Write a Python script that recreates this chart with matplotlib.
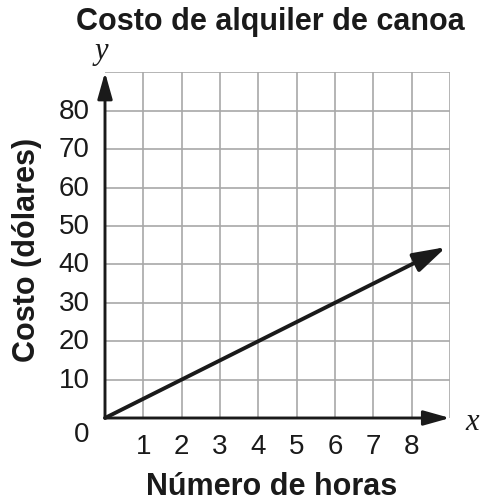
import matplotlib
matplotlib.use("Agg")
import matplotlib.pyplot as plt
import numpy as np

title = "Costo de alquiler de canoa"
xlabel = "Número de horas"
ylabel = "Costo (dólares)"
x_ticks = [1, 2, 3, 4, 5, 6, 7, 8]
y_ticks = [10, 20, 30, 40, 50, 60, 70, 80]
rate = 5  # dollars per hour
line_x = [0, 8.9]
line_y = [rate * v for v in line_x]

plt.rcParams['font.family'] = ['Liberation Sans', 'DejaVu Sans']

fig = plt.figure(figsize=(4.82, 5.02), dpi=100)
ax = fig.add_axes([105/482, 1 - 419/502, (450-105)/482, (419-73.3)/502])
ax.set_xlim(0, 9)
ax.set_ylim(0, 90)

grid_c = '#a8a8a8'
for xv in range(1, 10):
    ax.axvline(xv, color=grid_c, lw=1.2, zorder=1)
for yv in range(10, 100, 10):
    ax.axhline(yv, color=grid_c, lw=1.2, zorder=1)

for s in ax.spines.values():
    s.set_visible(False)
ax.set_xticks([])
ax.set_yticks([])

dark = '#1a1a1a'
axis_style = '-|>,head_length=1.6,head_width=0.45'
ax.annotate('', xy=(9.0, 0), xytext=(0, 0),
            arrowprops=dict(arrowstyle=axis_style, color=dark, lw=2.1,
                            shrinkA=0, shrinkB=0), annotation_clip=False, zorder=4)
ax.annotate('', xy=(0, 90), xytext=(0, 0),
            arrowprops=dict(arrowstyle=axis_style, color=dark, lw=2.1,
                            shrinkA=0, shrinkB=0), annotation_clip=False, zorder=4)
ax.annotate('', xy=(line_x[1], line_y[1]), xytext=(line_x[0], line_y[0]),
            arrowprops=dict(arrowstyle='-|>,head_length=2.0,head_width=0.6', color=dark, lw=2.8,
                            shrinkA=0, shrinkB=0), annotation_clip=False, zorder=5)

fs = 20
for xv in x_ticks:
    ax.text(xv, -7.3, str(xv), ha='center', va='center', fontsize=fs, color=dark)
for yv in y_ticks:
    ax.text(-0.4, yv, str(yv), ha='right', va='center', fontsize=fs, color=dark)
ax.text(-0.42, -4.1, '0', ha='right', va='center', fontsize=fs, color=dark)

ax.text(-0.1, 95.8, 'y', ha='center', va='center', fontsize=22, style='italic',
        family=['Liberation Serif'], color=dark)
ax.text(9.57, -1.0, 'x', ha='center', va='center', fontsize=22, style='italic',
        family=['Liberation Serif'], color=dark)

fig.text(270/482, 1 - 22/502, title, ha='center', va='center', fontsize=22,
         fontweight='bold', color=dark)
fig.text(272/482, 1 - 487/502, xlabel, ha='center', va='center', fontsize=22,
         fontweight='bold', color=dark)
fig.text(27/482, 1 - 250/502, ylabel, ha='center', va='center', fontsize=22,
         fontweight='bold', rotation=90, color=dark)

fig.savefig('out.png', dpi=100)
